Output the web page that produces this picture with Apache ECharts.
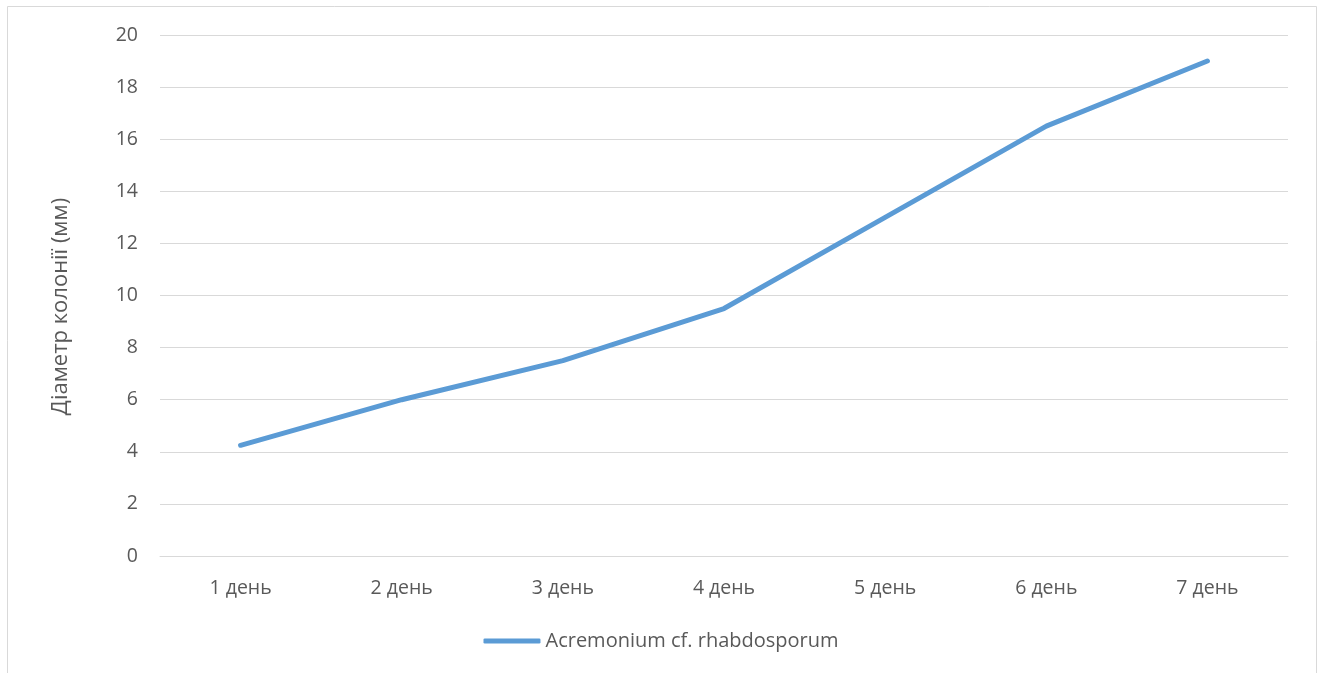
<!DOCTYPE html>
<html>
<head>
<meta charset="utf-8">
<script src="https://cdn.jsdelivr.net/npm/echarts@6/dist/echarts.min.js"></script>
<style>
html,body{margin:0;padding:0;background:#fff;}
#main{width:1322px;height:673px;}
</style>
</head>
<body>
<div id="main"></div>
<script>
const categories = ['1 день','2 день','3 день','4 день','5 день','6 день','7 день'];
const seriesName = 'Acremonium cf. rhabdosporum';
const values = [4.25, 6.0, 7.5, 9.5, 13.0, 16.5, 19.0];
const yAxisTitle = 'Діаметр колонії (мм)';

const chart = echarts.init(document.getElementById('main'));
const font = '"Open Sans", "Noto Sans", sans-serif';
chart.setOption({
  backgroundColor: '#fff',
  animation: false,
  graphic: [{
    type: 'rect',
    shape: {x: 7.5, y: 6.5, width: 1309, height: 700},
    style: {fill: 'none', stroke: '#d9d9d9', lineWidth: 1},
    silent: true
  }],
  grid: {left: 160, right: 34, top: 35, bottom: 117},
  legend: {
    data: [seriesName],
    top: 626,
    left: 'center',
    itemWidth: 57,
    itemHeight: 5,
    itemGap: 4,
    icon: 'roundRect',
    textStyle: {color: '#595959', fontSize: 20, fontFamily: font}
  },
  xAxis: {
    type: 'category',
    data: categories,
    boundaryGap: true,
    axisLine: {show: true, lineStyle: {color: '#d9d9d9', width: 1}},
    axisTick: {show: false},
    axisLabel: {color: '#595959', fontSize: 19.5, fontFamily: font, margin: 22}
  },
  yAxis: {
    type: 'value',
    min: 0, max: 20, interval: 2,
    name: yAxisTitle,
    nameLocation: 'middle',
    nameGap: 88,
    nameTextStyle: {color: '#595959', fontSize: 22, fontFamily: font, padding: [0, 22, 0, 0]},
    axisLine: {show: false},
    axisTick: {show: false},
    axisLabel: {color: '#595959', fontSize: 19.5, fontFamily: font, margin: 22},
    splitLine: {lineStyle: {color: '#d9d9d9', width: 1}}
  },
  series: [{
    name: seriesName,
    type: 'line',
    data: values,
    symbol: 'none',
    lineStyle: {color: '#5b9bd5', width: 5, cap: 'round', join: 'round'},
    itemStyle: {color: '#5b9bd5'}
  }]
});
</script>
</body>
</html>
